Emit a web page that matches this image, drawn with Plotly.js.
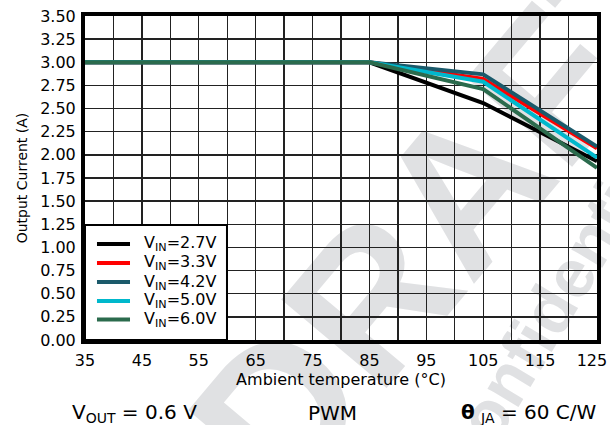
<!DOCTYPE html>
<html>
<head>
<meta charset="utf-8">
<script src="https://cdn.plot.ly/plotly-3.0.1.min.js"></script>
<style>
html,body{margin:0;padding:0;background:#fff;overflow:hidden;}
#wrap{position:relative;width:610px;height:425px;overflow:hidden;background:#fff;}
#chart{position:absolute;left:0;top:0;width:610px;height:425px;}
.wm{position:absolute;font-family:'Liberation Sans',Arial,sans-serif;font-weight:bold;color:#e0e1e3;white-space:nowrap;transform-origin:center center;line-height:1;}
#wm1{font-size:200px;left:450px;top:205px;transform:translate(-50%,-50%) rotate(-50deg);}
#wm2{font-size:68px;left:550px;top:308px;transform:translate(-50%,-50%) rotate(-59deg);}
</style>
</head>
<body>
<div id="wrap">
<div class="wm" id="wm1">DRAFT</div>
<div class="wm" id="wm2">Confidential</div>
<div id="chart"></div>
</div>
<script>
// Data
const temps = [35, 85, 105, 125];
const seriesNames = ['V<sub>IN</sub>=2.7V', 'V<sub>IN</sub>=3.3V', 'V<sub>IN</sub>=4.2V', 'V<sub>IN</sub>=5.0V', 'V<sub>IN</sub>=6.0V'];
const vin27 = [3.00, 3.00, 2.56, 1.93];
const vin33 = [3.00, 3.00, 2.82, 2.07];
const vin42 = [3.00, 3.00, 2.87, 2.09];
const vin50 = [3.00, 3.00, 2.79, 1.97];
const vin60 = [3.00, 3.00, 2.71, 1.86];
const xTicks = [35, 45, 55, 65, 75, 85, 95, 105, 115, 125];
const xTickText = ['35', '45', '55', '65', '75', '85', '95', '105', '115', '125\u00a0\u00a0'];
const yTicks = [0, 0.25, 0.5, 0.75, 1, 1.25, 1.5, 1.75, 2, 2.25, 2.5, 2.75, 3, 3.25, 3.5];

const colors = ['#000000', '#ff0000', '#1b5a6b', '#00b8cc', '#2b6b4d'];
const values = [vin27, vin33, vin42, vin50, vin60];

const traces = values.map((v, i) => ({
  x: temps, y: v, type: 'scatter', mode: 'lines', name: seriesNames[i],
  line: {color: colors[i], width: 4}, showlegend: false
}));

const F = 'DejaVu Sans, Liberation Sans, Arial, sans-serif';

// Legend drawn as a boxed key (paper coordinates)
const legBox = {x0: 0, x1: 0.2773, y0: 0, y1: 0.355};
const legRowY = [0.2963, 0.2377, 0.1790, 0.1204, 0.0633];
const shapes = [{type: 'rect', xref: 'paper', yref: 'paper', x0: legBox.x0, x1: legBox.x1, y0: legBox.y0, y1: legBox.y1,
  fillcolor: '#fff', line: {color: '#000', width: 2}, layer: 'above'}];
const annotations = [];
seriesNames.forEach((name, i) => {
  shapes.push({type: 'line', xref: 'paper', yref: 'paper', x0: 0.0234, x1: 0.0879, y0: legRowY[i], y1: legRowY[i],
    line: {color: colors[i], width: 4}, layer: 'above'});
  annotations.push({xref: 'paper', yref: 'paper', x: 0.1113, y: legRowY[i], xanchor: 'left', yanchor: 'middle',
    showarrow: false, text: name, font: {size: 16, family: F}});
});

annotations.push(
  {xref: 'paper', yref: 'paper', x: -0.03, y: -0.225, xanchor: 'left', yanchor: 'middle', showarrow: false,
   text: 'V<sub>OUT</sub> = 0.6 V', font: {size: 20, family: F}},
  {xref: 'paper', yref: 'paper', x: 0.483, y: -0.225, xanchor: 'center', yanchor: 'middle', showarrow: false,
   text: 'PWM', font: {size: 20, family: F}},
  {xref: 'paper', yref: 'paper', x: 1.003, y: -0.225, xanchor: 'right', yanchor: 'middle', showarrow: false,
   text: '<b>θ</b> <sub>JA</sub> = 60 C/W', font: {size: 20, family: F}}
);

const layout = {
  width: 610, height: 425,
  margin: {l: 85, r: 13, t: 16, b: 85},
  paper_bgcolor: 'rgba(0,0,0,0)', plot_bgcolor: 'rgba(0,0,0,0)',
  font: {family: F, color: '#000', size: 16},
  showlegend: false,
  xaxis: {range: [35, 125], tickvals: xTicks, ticktext: xTickText, showgrid: true, gridcolor: '#222', gridwidth: 1.3,
    minor: {dtick: 5, tick0: 35, showgrid: true, gridcolor: '#222', gridwidth: 1.3},
    showline: true, linecolor: '#000', linewidth: 4, mirror: true, zeroline: false,
    ticks: '', tickfont: {size: 16, family: F}, ticklabelstandoff: 3, ticklabeloverflow: 'allow',
    title: {text: 'Ambient temperature (°C)', font: {size: 16, family: F}, standoff: 0}},
  yaxis: {range: [0, 3.5], tickvals: yTicks, tickformat: '.2f', showgrid: true, gridcolor: '#222', gridwidth: 1.3,
    showline: true, linecolor: '#000', linewidth: 4, mirror: true, zeroline: false,
    ticks: '', tickfont: {size: 16, family: F}, ticklabelstandoff: 2,
    title: {text: 'Output Current (A)', font: {size: 14, family: F}, standoff: 10}},
  shapes: shapes,
  annotations: annotations
};

Plotly.newPlot('chart', traces, layout, {staticPlot: true, displayModeBar: false});
</script>
</body>
</html>
